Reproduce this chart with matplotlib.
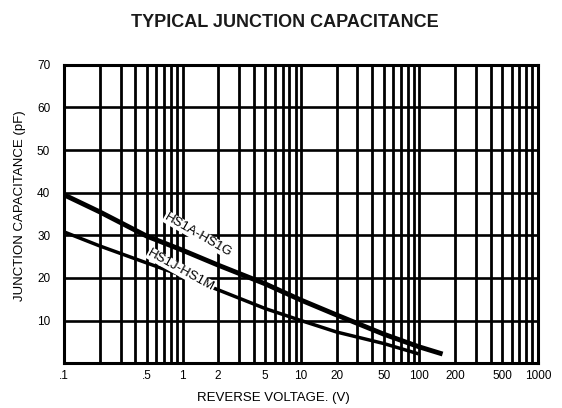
import numpy as np
import matplotlib
matplotlib.use("Agg")
from matplotlib import pyplot as plt

plt.rcParams['font.family'] = ['Liberation Sans', 'DejaVu Sans']

# curve data
volt_hs1a = [0.1, 0.2, 0.5, 1, 2, 5, 10, 20, 50, 100, 150]
cap_hs1a = [39.5, 35.5, 29.8, 26.5, 23.0, 18.6, 14.8, 11.3, 6.8, 3.8, 2.3]
volt_hs1j = [0.1, 0.2, 0.5, 1, 2, 5, 10, 20, 50, 95]
cap_hs1j = [30.8, 27.5, 23.5, 20.5, 17.2, 12.8, 10.0, 7.3, 4.6, 2.3]

x_ticks = [0.1, 0.5, 1, 2, 5, 10, 20, 50, 100, 200, 500, 1000]
x_labels = ['.1', '.5', '1', '2', '5', '10', '20', '50', '100', '200', '500', '1000']
y_ticks = [10, 20, 30, 40, 50, 60, 70]


def main():
    fig = plt.figure(figsize=(5.62, 4.08), dpi=100)
    ax = fig.add_axes([0.114, 0.110, 0.843, 0.731])
    ax.set_xscale('log')
    ax.set_xlim(0.1, 1000)
    ax.set_ylim(0, 70)

    # heavy grid like the printed chart
    for dec in [0.1, 1, 10, 100]:
        for m in range(1, 10):
            ax.axvline(dec * m, color='black', lw=2.0, zorder=1)
    for y in y_ticks[:-1]:
        ax.axhline(y, color='black', lw=1.9, zorder=1)

    ax.plot(volt_hs1a, cap_hs1a, color='black', lw=3.5, zorder=3)
    ax.plot(volt_hs1j, cap_hs1j, color='black', lw=2.5, zorder=3)

    ax.text(1.35, 30.1, 'HS1A-HS1G', rotation=-30, fontsize=9.5, ha='center', va='center',
            zorder=4, bbox=dict(facecolor='white', edgecolor='none', pad=0.3))
    ax.text(0.97, 21.8, 'HS1J-HS1M', rotation=-29, fontsize=9.5, ha='center', va='center',
            zorder=4, bbox=dict(facecolor='white', edgecolor='none', pad=0.3))

    ax.set_xticks(x_ticks)
    ax.set_xticklabels(x_labels)
    ax.xaxis.set_minor_locator(matplotlib.ticker.NullLocator())
    ax.set_yticks(y_ticks)
    ax.tick_params(length=0, labelsize=8.5)
    ax.tick_params(axis='x', pad=5)
    ax.tick_params(axis='y', pad=10)
    for s in ax.spines.values():
        s.set_linewidth(2.2)

    fig.text(0.507, 0.946, 'TYPICAL JUNCTION CAPACITANCE', ha='center', va='center',
             fontsize=13, fontweight='bold', color='#1a1a1a')
    fig.text(273 / 562, 1 - 398 / 408, 'REVERSE VOLTAGE. (V)', ha='center', va='center', fontsize=9.5)
    fig.text(20 / 562, 1 - 206 / 408, 'JUNCTION CAPACITANCE (pF)', ha='center', va='center',
             rotation=90, fontsize=9.5)

    fig.savefig('out.png', dpi=100)


if __name__ == "__main__":
    main()
